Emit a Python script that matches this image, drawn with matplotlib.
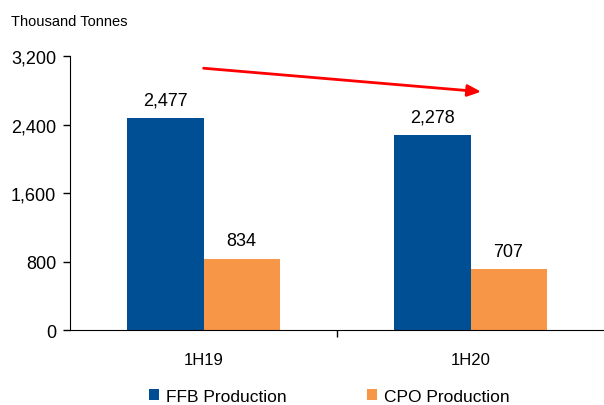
import matplotlib.pyplot as plt
import numpy as np

plt.rcParams['font.family'] = ['Liberation Sans', 'DejaVu Sans']

categories = ["1H19", "1H20"]
ffb = [2477, 2278]
cpo = [834, 707]
yticks = [0, 800, 1600, 2400, 3200]

fig = plt.figure(figsize=(6.04, 4.06), dpi=100)
ax = fig.add_axes([0.1159, 0.1847, 0.8841, 0.6749])

x = np.arange(len(categories))
w = 0.285
b1 = ax.bar(x - w / 2, ffb, w, color="#004F94", label="FFB Production")
b2 = ax.bar(x + w / 2, cpo, w, color="#F79646", label="CPO Production")

for bars, vals in ((b1, ffb), (b2, cpo)):
    for r, v in zip(bars, vals):
        ax.text(r.get_x() + r.get_width() / 2, v + 110, f"{v:,}",
                ha="center", va="bottom", fontsize=13)

ax.set_xlim(-0.5, 1.5)
ax.set_ylim(0, 3200)
ax.set_yticks(yticks)
ax.set_yticklabels([f"{t:,}" for t in yticks], fontsize=13)
ax.set_xticks(x)
ax.set_xticklabels(categories, fontsize=12)
ax.tick_params(axis="x", length=0, pad=16)
ax.set_xticks([0.5], minor=True)
ax.tick_params(axis="x", which="minor", length=5, width=1)
ax.tick_params(axis="y", length=5, width=1, pad=5)

for s in ["top", "right"]:
    ax.spines[s].set_visible(False)

# trend arrow
ax.annotate("", xy=(1.05, 2780), xytext=(-0.01, 3060),
            arrowprops=dict(arrowstyle="-|>,head_length=0.8,head_width=0.35",
                            color="red", lw=2))

fig.text(0.018, 0.945, "Thousand Tonnes", fontsize=10.5, va="center")

fig.legend(loc="lower center", bbox_to_anchor=(0.545, -0.035), ncol=2,
           frameon=False, fontsize=12.5, handlelength=0.6, handleheight=0.6,
           columnspacing=4.6, handletextpad=0.4)

fig.savefig("out.png", dpi=100)
